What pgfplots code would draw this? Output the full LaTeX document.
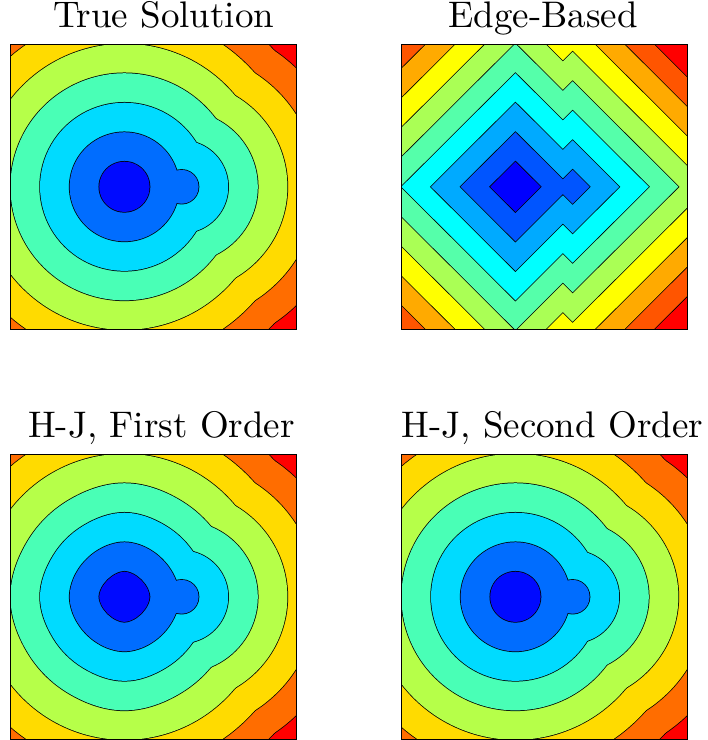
\documentclass[border=0pt]{standalone}
\usepackage{fontspec}
\usepackage{pgfplots}
\usepackage{pgfplotstable}
\pgfplotsset{compat=1.18}
\newfontfamily\titlefont{lmroman10-regular}[Extension=.otf]

\definecolor{tb0}{RGB}{0,10,255}
\definecolor{tb1}{RGB}{0,109,255}
\definecolor{tb2}{RGB}{0,219,255}
\definecolor{tb3}{RGB}{73,255,182}
\definecolor{tb4}{RGB}{182,255,73}
\definecolor{tb5}{RGB}{255,219,0}
\definecolor{tb6}{RGB}{255,109,0}
\definecolor{tb7}{RGB}{255,0,0}
\definecolor{eb0}{RGB}{0,0,255}
\definecolor{eb1}{RGB}{0,85,255}
\definecolor{eb2}{RGB}{0,170,255}
\definecolor{eb3}{RGB}{0,255,255}
\definecolor{eb4}{RGB}{85,255,170}
\definecolor{eb5}{RGB}{170,255,85}
\definecolor{eb6}{RGB}{255,255,0}
\definecolor{eb7}{RGB}{255,170,0}
\definecolor{eb8}{RGB}{255,85,0}
\definecolor{eb9}{RGB}{255,0,0}

% ---------- contours around the main source (0.4,0.5) ----------
\pgfplotstableread{
x y
0.4762 0.4560
0.4880 0.5000
0.4762 0.5440
0.4440 0.5762
0.4000 0.5880
0.3560 0.5762
0.3238 0.5440
0.3120 0.5000
0.3238 0.4560
0.3560 0.4238
0.4000 0.4120
0.4440 0.4238
0.4762 0.4560
0.4880 0.5000
0.4762 0.5440
}\ciA
\pgfplotstableread{
x y
0.5658 0.4042
0.5915 0.5
0.5658 0.5958
0.4958 0.6658
0.4 0.6915
0.3042 0.6658
0.2342 0.5958
0.2085 0.5
0.2342 0.4042
0.3042 0.3342
0.4 0.3085
0.4958 0.3342
0.5658 0.4042
0.5915 0.5
0.5658 0.5958
}\ciB
\pgfplotstableread{
x y
0.6555 0.3525
0.695 0.5
0.6555 0.6475
0.5475 0.7555
0.4 0.795
0.2525 0.7555
0.1445 0.6475
0.105 0.5
0.1445 0.3525
0.2525 0.2445
0.4 0.205
0.5475 0.2445
0.6555 0.3525
0.695 0.5
0.6555 0.6475
}\ciC
\pgfplotstableread{
x y
0.7451 0.3007
0.7985 0.5
0.7451 0.6993
0.5993 0.8451
0.4 0.8985
0.2007 0.8451
0.0549 0.6993
0.0015 0.5
0.0549 0.3007
0.2007 0.1549
0.4 0.1015
0.5993 0.1549
0.7451 0.3007
0.7985 0.5
0.7451 0.6993
}\ciD
\pgfplotstableread{
x y
0.8347 0.249
0.902 0.5
0.8347 0.751
0.651 0.9347
0.4 1.002
0.149 0.9347
-0.0347 0.751
-0.102 0.5
-0.0347 0.249
0.149 0.0653
0.4 -0.002
0.651 0.0653
0.8347 0.249
0.902 0.5
0.8347 0.751
}\ciE
\pgfplotstableread{
x y
0.9244 0.1972
1.0055 0.5
0.9244 0.8028
0.7028 1.0244
0.4 1.1055
0.0972 1.0244
-0.1244 0.8028
-0.2055 0.5
-0.1244 0.1972
0.0972 -0.0244
0.4 -0.1055
0.7028 -0.0244
0.9244 0.1972
1.0055 0.5
0.9244 0.8028
}\ciF
\pgfplotstableread{
x y
1.014 0.1455
1.109 0.5
1.014 0.8545
0.7545 1.114
0.4 1.209
0.0455 1.114
-0.214 0.8545
-0.309 0.5
-0.214 0.1455
0.0455 -0.114
0.4 -0.209
0.7545 -0.114
1.014 0.1455
1.109 0.5
1.014 0.8545
}\ciG
% ---------- contours around the second source (0.6,0.5) ----------
\pgfplotstableread{
x y
0.6515 0.4702
0.6595 0.5
0.6515 0.5298
0.6298 0.5515
0.6 0.5595
0.5702 0.5515
0.5485 0.5298
0.5405 0.5
0.5485 0.4702
0.5702 0.4485
0.6 0.4405
0.6298 0.4485
0.6515 0.4702
0.6595 0.5
0.6515 0.5298
}\cjB
\pgfplotstableread{
x y
0.7412 0.4185
0.763 0.5
0.7412 0.5815
0.6815 0.6412
0.6 0.663
0.5185 0.6412
0.4588 0.5815
0.437 0.5
0.4588 0.4185
0.5185 0.3588
0.6 0.337
0.6815 0.3588
0.7412 0.4185
0.763 0.5
0.7412 0.5815
}\cjC
\pgfplotstableread{
x y
0.8308 0.3667
0.8665 0.5
0.8308 0.6333
0.7333 0.7308
0.6 0.7665
0.4667 0.7308
0.3692 0.6333
0.3335 0.5
0.3692 0.3667
0.4667 0.2692
0.6 0.2335
0.7333 0.2692
0.8308 0.3667
0.8665 0.5
0.8308 0.6333
}\cjD
\pgfplotstableread{
x y
0.9204 0.315
0.97 0.5
0.9204 0.685
0.785 0.8204
0.6 0.87
0.415 0.8204
0.2796 0.685
0.23 0.5
0.2796 0.315
0.415 0.1796
0.6 0.13
0.785 0.1796
0.9204 0.315
0.97 0.5
0.9204 0.685
}\cjE
\pgfplotstableread{
x y
1.0101 0.2632
1.0735 0.5
1.0101 0.7368
0.8368 0.9101
0.6 0.9735
0.3632 0.9101
0.1899 0.7368
0.1265 0.5
0.1899 0.2632
0.3632 0.0899
0.6 0.0265
0.8368 0.0899
1.0101 0.2632
1.0735 0.5
1.0101 0.7368
}\cjF
\pgfplotstableread{
x y
1.0997 0.2115
1.177 0.5
1.0997 0.7885
0.8885 0.9997
0.6 1.077
0.3115 0.9997
0.1003 0.7885
0.023 0.5
0.1003 0.2115
0.3115 0.0003
0.6 -0.077
0.8885 0.0003
1.0997 0.2115
1.177 0.5
1.0997 0.7885
}\cjG
% ---------- H-J first order: inner contours ----------
\pgfplotstableread{
x y
0.4829 0.4778
0.4880 0.5000
0.4829 0.5222
0.4724 0.5418
0.4586 0.5586
0.4418 0.5724
0.4222 0.5829
0.4000 0.5880
0.3778 0.5829
0.3582 0.5724
0.3414 0.5586
0.3276 0.5418
0.3171 0.5222
0.3120 0.5000
0.3171 0.4778
0.3276 0.4582
0.3414 0.4414
0.3582 0.4276
0.3778 0.4171
0.4000 0.4120
0.4222 0.4171
0.4418 0.4276
0.4586 0.4414
0.4724 0.4582
0.4829 0.4778
0.4880 0.5000
0.4829 0.5222
}\hiA
\pgfplotstableread{
x y
0.5830 0.4510
0.5915 0.5
0.5830 0.5490
0.5620 0.5936
0.5316 0.6316
0.4936 0.6620
0.4490 0.6830
0.4 0.6915
0.3510 0.6830
0.3064 0.6620
0.2684 0.6316
0.2380 0.5936
0.2170 0.5490
0.2085 0.5
0.2170 0.4510
0.2380 0.4064
0.2684 0.3684
0.3064 0.3380
0.3510 0.3170
0.4 0.3085
0.4490 0.3170
0.4936 0.3380
0.5316 0.3684
0.5620 0.4064
0.5830 0.4510
0.5915 0.5
0.5830 0.5490
}\hiB
\pgfplotstableread{
x y
0.6491 0.3562
0.695 0.5
0.6491 0.6438
0.5438 0.7491
0.4 0.795
0.2562 0.7491
0.1509 0.6438
0.105 0.5
0.1509 0.3562
0.2562 0.2509
0.4 0.205
0.5438 0.2509
0.6491 0.3562
0.695 0.5
0.6491 0.6438
}\hiC
\pgfplotstableread{
x y
0.7382 0.3047
0.7985 0.5
0.7382 0.6953
0.5953 0.8382
0.4 0.8985
0.2047 0.8382
0.0618 0.6953
0.0015 0.5
0.0618 0.3047
0.2047 0.1618
0.4 0.1015
0.5953 0.1618
0.7382 0.3047
0.7985 0.5
0.7382 0.6953
}\hiD
% ---------- edge-based: diamonds ----------
\pgfplotstableread{
x y
0.488 0.5
0.4 0.588
0.312 0.5
0.4 0.412
}\diA
\pgfplotstableread{
x y
0.5915 0.5
0.4 0.6915
0.2085 0.5
0.4 0.3085
}\diB
\pgfplotstableread{
x y
0.695 0.5
0.4 0.795
0.105 0.5
0.4 0.205
}\diC
\pgfplotstableread{
x y
0.7985 0.5
0.4 0.8985
0.0015 0.5
0.4 0.1015
}\diD
\pgfplotstableread{
x y
0.902 0.5
0.4 1.002
-0.102 0.5
0.4 -0.002
}\diE
\pgfplotstableread{
x y
1.0055 0.5
0.4 1.1055
-0.2055 0.5
0.4 -0.1055
}\diF
\pgfplotstableread{
x y
1.109 0.5
0.4 1.209
-0.309 0.5
0.4 -0.209
}\diG
\pgfplotstableread{
x y
1.2125 0.5
0.4 1.3125
-0.4125 0.5
0.4 -0.3125
}\diH
\pgfplotstableread{
x y
1.316 0.5
0.4 1.416
-0.516 0.5
0.4 -0.416
}\diI
\pgfplotstableread{
x y
0.6595 0.5
0.6 0.5595
0.5405 0.5
0.6 0.4405
}\djB
\pgfplotstableread{
x y
0.763 0.5
0.6 0.663
0.437 0.5
0.6 0.337
}\djC
\pgfplotstableread{
x y
0.8665 0.5
0.6 0.7665
0.3335 0.5
0.6 0.2335
}\djD
\pgfplotstableread{
x y
0.97 0.5
0.6 0.87
0.23 0.5
0.6 0.13
}\djE
\pgfplotstableread{
x y
1.0735 0.5
0.6 0.9735
0.1265 0.5
0.6 0.0265
}\djF
\pgfplotstableread{
x y
1.177 0.5
0.6 1.077
0.023 0.5
0.6 -0.077
}\djG
\pgfplotstableread{
x y
1.2805 0.5
0.6 1.1805
-0.0805 0.5
0.6 -0.1805
}\djH
\pgfplotstableread{
x y
1.384 0.5
0.6 1.284
-0.184 0.5
0.6 -0.284
}\djI

\pgfplotsset{
  panel/.style={width=286pt, height=285pt, scale only axis,
    xmin=0, xmax=1, ymin=0, ymax=1, xtick=\empty, ytick=\empty,
    axis on top, anchor=south west,
    axis line style={black, line width=0.8pt},
    title style={font=\titlefont\fontsize{37}{44}\selectfont, at={(0.5,1)}, anchor=base, inner sep=0pt, yshift=10.7pt}},
  cl/.style={draw=black, line width=1.5pt, fill=none, smooth, tension=0.63, line join=round},
  cf/.style={draw=none, fill=#1, smooth, tension=0.63},
  el/.style={draw=black, line width=1.5pt, fill=none, line join=miter},
  ef/.style={draw=none, fill=#1},
}
\newcommand{\lvl}[3]{%
  \addplot[cl] table {#1};
  \addplot[cl] table {#2};
  \addplot[cf=#3] table {#1};
  \addplot[cf=#3] table {#2};}
\newcommand{\lvlone}[2]{%
  \addplot[cl] table {#1};
  \addplot[cf=#2] table {#1};}
\newcommand{\dlvl}[3]{%
  \addplot[el] table {#1} -- cycle;
  \addplot[el] table {#2} -- cycle;
  \addplot[ef=#3] table {#1} -- cycle;
  \addplot[ef=#3] table {#2} -- cycle;}
\newcommand{\dlvlone}[2]{%
  \addplot[el] table {#1} -- cycle;
  \addplot[ef=#2] table {#1} -- cycle;}

\begin{document}
\begin{tikzpicture}
\path[use as bounding box] (0,0) rectangle (708pt,740pt);

% ---------------- True Solution ----------------
\begin{axis}[panel, at={(10pt,410.7pt)}, title={True Solution}, title style={xshift=10.7pt}]
  \addplot[fill=tb7, draw=none] coordinates {(0,0) (1,0) (1,1) (0,1)} -- cycle;
  \lvl{\ciG}{\cjG}{tb6}
  \lvl{\ciF}{\cjF}{tb5}
  \lvl{\ciE}{\cjE}{tb4}
  \lvl{\ciD}{\cjD}{tb3}
  \lvl{\ciC}{\cjC}{tb2}
  \lvl{\ciB}{\cjB}{tb1}
  \lvlone{\ciA}{tb0}
\end{axis}

% ---------------- Edge-Based ----------------
\begin{axis}[panel, at={(401pt,410.7pt)}, title={Edge-Based}, title style={xshift=-1pt}]
  \addplot[fill=eb9, draw=none] coordinates {(0,0) (1,0) (1,1) (0,1)} -- cycle;
  \dlvl{\diI}{\djI}{eb8}
  \dlvl{\diH}{\djH}{eb7}
  \dlvl{\diG}{\djG}{eb6}
  \dlvl{\diF}{\djF}{eb5}
  \dlvl{\diE}{\djE}{eb4}
  \dlvl{\diD}{\djD}{eb3}
  \dlvl{\diC}{\djC}{eb2}
  \dlvl{\diB}{\djB}{eb1}
  \dlvlone{\diA}{eb0}
\end{axis}

% ---------------- H-J, First Order ----------------
\begin{axis}[panel, at={(10pt,0.7pt)}, title={H-J, First Order}, title style={xshift=8.5pt}]
  \addplot[fill=tb7, draw=none] coordinates {(0,0) (1,0) (1,1) (0,1)} -- cycle;
  \lvl{\ciG}{\cjG}{tb6}
  \lvl{\ciF}{\cjF}{tb5}
  \lvl{\ciE}{\cjE}{tb4}
  \lvl{\hiD}{\cjD}{tb3}
  \lvl{\hiC}{\cjC}{tb2}
  \lvl{\hiB}{\cjB}{tb1}
  \lvlone{\hiA}{tb0}
\end{axis}

% ---------------- H-J, Second Order ----------------
\begin{axis}[panel, at={(401pt,0.7pt)}, title={H-J, Second Order}, title style={xshift=8.3pt}]
  \addplot[fill=tb7, draw=none] coordinates {(0,0) (1,0) (1,1) (0,1)} -- cycle;
  \lvl{\ciG}{\cjG}{tb6}
  \lvl{\ciF}{\cjF}{tb5}
  \lvl{\ciE}{\cjE}{tb4}
  \lvl{\ciD}{\cjD}{tb3}
  \lvl{\ciC}{\cjC}{tb2}
  \lvl{\ciB}{\cjB}{tb1}
  \lvlone{\ciA}{tb0}
\end{axis}
\end{tikzpicture}
\end{document}
